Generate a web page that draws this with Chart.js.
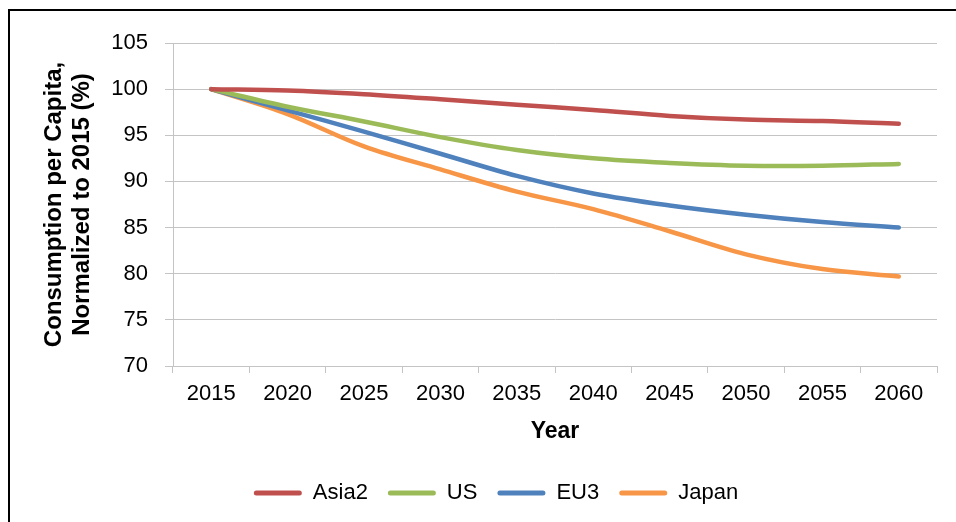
<!DOCTYPE html>
<html>
<head>
<meta charset="utf-8">
<script src="https://cdn.jsdelivr.net/npm/chart.js@4/dist/chart.umd.min.js"></script>
<style>
  html, body { margin: 0; padding: 0; background: #fff; }
  #wrap { position: relative; width: 956px; height: 522px; }
  #frame { position: absolute; left: 8px; top: 9px; right: 0; bottom: 0;
           border-left: 2px solid #000; border-top: 2px solid #000; pointer-events: none; }
  canvas { position: absolute; left: 0; top: 0; }
</style>
</head>
<body>
<div id="wrap">
  <canvas id="chart" width="956" height="522"></canvas>
  <div id="frame"></div>
</div>
<script>
  const years = ['2015', '2020', '2025', '2030', '2035', '2040', '2045', '2050', '2055', '2060'];
  const asia2 = [100, 99.85, 99.45, 98.9, 98.3, 97.75, 97.1, 96.7, 96.55, 96.25];
  const us    = [100, 98.1, 96.5, 94.8, 93.4, 92.5, 92.0, 91.7, 91.7, 91.9];
  const eu3   = [100, 97.7, 95.4, 93.0, 90.6, 88.7, 87.4, 86.4, 85.6, 85.0];
  const japan = [100, 97.3, 93.8, 91.3, 88.9, 87.0, 84.6, 82.1, 80.5, 79.7];
  const yTitle = ['Consumption per Capita,', 'Normalized to 2015 (%)'];

  const gridColor = '#c4c4c4';
  const font = 'Liberation Sans, Arial, sans-serif';
  const padLeft = 41;

  function series(label, data, color) {
    return {
      label: label,
      data: data,
      borderColor: color,
      backgroundColor: color,
      borderWidth: 4.5,
      borderCapStyle: 'round',
      borderJoinStyle: 'round',
      pointRadius: 0,
      tension: 0.35,
      fill: false
    };
  }

  // nudge the legend a bit to the right, like the original
  const legendShift = {
    id: 'legendShift',
    afterLayout: function (chart) {
      if (chart.legend) {
        chart.legend.left += 7;
        chart.legend.right += 7;
      }
    }
  };

  new Chart(document.getElementById('chart'), {
    type: 'line',
    data: {
      labels: years,
      datasets: [
        series('Asia2', asia2, '#c0504d'),
        series('US', us, '#9bbb59'),
        series('EU3', eu3, '#4f81bd'),
        series('Japan', japan, '#f79646')
      ]
    },
    options: {
      responsive: false,
      animation: false,
      layout: { padding: { left: padLeft, right: 19, top: 43, bottom: 8 } },
      scales: {
        x: {
          offset: true,
          grid: {
            offset: true,
            drawOnChartArea: false,
            drawTicks: true,
            tickLength: 7,
            color: gridColor
          },
          border: { color: gridColor },
          ticks: { color: '#000', padding: 8, font: { family: font, size: 22 }, maxRotation: 0 },
          title: {
            display: true,
            text: 'Year',
            color: '#000',
            font: { family: font, size: 23, weight: 'bold' },
            padding: { top: 8, bottom: 17 }
          },
          afterFit: function (scale) { scale.height = 96; }
        },
        y: {
          min: 70,
          max: 105,
          ticks: { stepSize: 5, color: '#000', padding: 17, font: { family: font, size: 22 } },
          grid: { color: gridColor, tickLength: 8 },
          border: { color: gridColor },
          title: {
            display: true,
            text: yTitle,
            color: '#000',
            font: { family: font, size: 24, weight: 'bold', lineHeight: 1.15 },
            padding: { top: 0, bottom: 12 }
          },
          afterFit: function (scale) { scale.width = 173 - padLeft; }
        }
      },
      plugins: {
        legend: {
          position: 'bottom',
          labels: {
            color: '#000',
            font: { family: font, size: 22 },
            boxWidth: 48,
            boxHeight: 5,
            padding: 20,
            useBorderRadius: true,
            borderRadius: 2.5,
            generateLabels: function (chart) {
              return Chart.defaults.plugins.legend.labels.generateLabels(chart).map(function (item) {
                item.lineWidth = 0;
                return item;
              });
            }
          }
        },
        tooltip: { enabled: false }
      }
    },
    plugins: [legendShift]
  });
</script>
</body>
</html>
